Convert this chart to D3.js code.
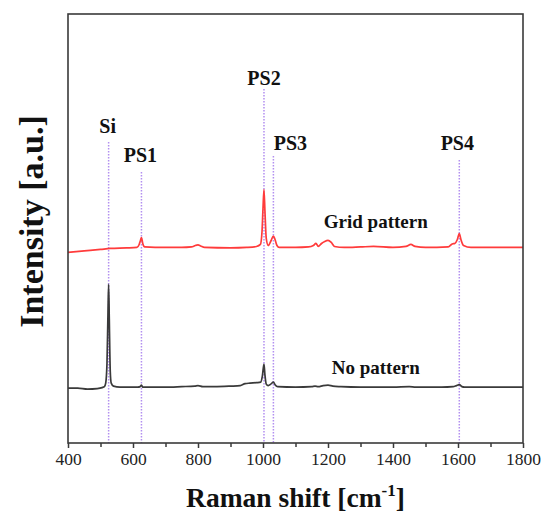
<!DOCTYPE html>
<html>
<head>
<meta charset="utf-8">
<script src="https://cdn.jsdelivr.net/npm/d3@7"></script>
<style>
  html, body { margin: 0; padding: 0; background: #fff; }
  svg { display: block; font-family: "Liberation Serif", "Times New Roman", serif; }
</style>
</head>
<body>
<svg id="chart" width="541" height="514"></svg>
<script>
// ---- Data ----
const xTicks = [400, 600, 800, 1000, 1200, 1400, 1600, 1800];
const xMinorTicks = [500, 700, 900, 1100, 1300, 1500, 1700];

// Raman shift (cm^-1) and intensity (a.u.) of "No pattern" spectrum
const noPatternShift = [400, 430, 460, 490, 505, 512, 516, 520, 523, 525, 527, 530, 533, 540, 560, 600, 615, 622, 626, 630, 650, 700, 750, 790, 800, 815, 850, 900, 930, 945, 960, 980, 993, 998, 1003, 1006, 1010, 1016, 1024, 1032, 1038, 1045, 1100, 1150, 1160, 1170, 1185, 1200, 1215, 1240, 1300, 1400, 1450, 1470, 1550, 1585, 1595, 1604, 1612, 1620, 1700, 1800];
const noPatternInt   = [55, 55, 54, 54.5, 55.5, 56.5, 60, 80, 130, 159, 125, 72, 60, 57, 56, 56, 56, 56.5, 58, 56, 56, 56, 56.5, 57, 57.5, 56.5, 56.5, 57, 57.5, 59.5, 60, 60.5, 61, 67, 79, 68, 59, 57.5, 59, 61, 58, 56.5, 56, 56.5, 57, 56.5, 57.5, 58, 57, 56.5, 56, 56, 56.5, 56, 56, 56.5, 57.5, 58.5, 56.5, 56, 56, 56];

// Raman shift (cm^-1) and intensity (a.u.) of "Grid pattern" spectrum
const gridShift = [400, 450, 500, 530, 580, 612, 619, 623, 626, 630, 636, 700, 750, 780, 792, 800, 808, 820, 900, 950, 980, 992, 997, 1000, 1003, 1006, 1010, 1016, 1025, 1032, 1037, 1043, 1050, 1100, 1140, 1155, 1163, 1170, 1180, 1190, 1200, 1210, 1220, 1250, 1300, 1340, 1400, 1440, 1455, 1468, 1500, 1570, 1582, 1590, 1598, 1604, 1609, 1617, 1640, 1700, 1800];
const gridInt   = [191, 192.5, 194, 195, 195.5, 196, 199, 203, 206, 200, 196.5, 196, 196, 196.5, 198, 198.5, 197.5, 196, 195.5, 196, 197, 199, 212, 235, 254, 232, 205, 198, 203, 207.5, 204, 198, 196, 196, 196.5, 198, 200, 197, 200, 202, 203, 201, 197, 196, 196.5, 197, 196, 197, 199, 197, 196, 196.5, 199.5, 200, 204, 210, 204, 198, 196, 196, 196];

// Peak markers
const markerNames = ["Si", "PS1", "PS2", "PS3", "PS4"];
const markerShift = [525, 626, 1003, 1032, 1604];

// Series labels
const seriesNames = ["Grid pattern", "No pattern"];

// ---- Layout ----
const W = 541, H = 514;
const margin = { left: 68, right: 18, top: 14, bottom: 71 };
const x0 = margin.left, x1 = W - margin.right;
const y0 = H - margin.bottom, y1 = margin.top;

const x = d3.scaleLinear().domain([400, 1800]).range([x0, x1]);
const y = d3.scaleLinear().domain([0, 430]).range([y0, y1]);

const svg = d3.select("#chart");

// marker dotted lines (drawn beneath spectra)
const markerTop = [142, 172, 89, 156, 160];          // pixel tops of dotted lines
const labelBase = [133, 162, 85, 150, 150];          // pixel baselines of labels
const labelDx   = [-1, -1, 0, 17, -2];

const mk = svg.append("g");
markerShift.forEach((s, i) => {
  mk.append("line")
    .attr("x1", x(s)).attr("x2", x(s))
    .attr("y1", markerTop[i]).attr("y2", y0)
    .attr("stroke", "#b28ff0").attr("stroke-width", 1.5)
    .attr("stroke-dasharray", "1.5,1.5");
  mk.append("text")
    .attr("x", x(s) + labelDx[i]).attr("y", labelBase[i])
    .attr("text-anchor", "middle")
    .attr("font-weight", "bold").attr("font-size", 20)
    .attr("fill", "#111")
    .text(markerNames[i]);
});

// spectra
const line = d3.line().x(d => x(d[0])).y(d => y(d[1])).curve(d3.curveMonotoneX);
const noData = noPatternShift.map((s, i) => [s, noPatternInt[i]]);
const gridData = gridShift.map((s, i) => [s, gridInt[i]]);

svg.append("path").datum(noData).attr("d", line)
  .attr("fill", "none").attr("stroke", "#3a3a3a").attr("stroke-width", 1.7);
svg.append("path").datum(gridData).attr("d", line)
  .attr("fill", "none").attr("stroke", "#ff3b3b").attr("stroke-width", 1.7);

// series labels
const seriesLabelX = 1347;
const seriesLabelY = [228, 374];
seriesNames.forEach((n, i) => {
  svg.append("text")
    .attr("x", x(seriesLabelX)).attr("y", seriesLabelY[i])
    .attr("text-anchor", "middle")
    .attr("font-weight", "bold").attr("font-size", 19)
    .attr("fill", "#111")
    .text(n);
});

// frame
svg.append("rect")
  .attr("x", x0).attr("y", y1)
  .attr("width", x1 - x0).attr("height", y0 - y1)
  .attr("fill", "none").attr("stroke", "#3a3a3a").attr("stroke-width", 1.6);

// x axis
const xAxis = d3.axisBottom(x).tickValues(xTicks).tickSize(5).tickPadding(5).tickFormat(d3.format("d"));
const gx = svg.append("g").attr("transform", `translate(0,${y0})`).call(xAxis);
gx.select(".domain").remove();
gx.selectAll(".tick line").attr("stroke", "#3a3a3a").attr("stroke-width", 1.5);
gx.selectAll(".tick text")
  .attr("font-family", "'Liberation Serif', serif").attr("font-size", 17.5).attr("fill", "#222");

const gxm = svg.append("g").attr("transform", `translate(0,${y0})`)
  .call(d3.axisBottom(x).tickValues(xMinorTicks).tickSize(4).tickFormat(""));
gxm.select(".domain").remove();
gxm.selectAll(".tick line").attr("stroke", "#3a3a3a").attr("stroke-width", 1.5);

// axis titles
const xt = svg.append("text")
  .attr("x", (x0 + x1) / 2).attr("y", 507)
  .attr("text-anchor", "middle")
  .attr("font-weight", "bold").attr("font-size", 27.5).attr("fill", "#111");
xt.append("tspan").text("Raman shift [cm");
xt.append("tspan").attr("font-size", 17).attr("dy", -11).text("-1");
xt.append("tspan").attr("dy", 11).text("]");

svg.append("text")
  .attr("transform", `translate(43,${(y0 + y1) / 2 - 7}) rotate(-90)`)
  .attr("text-anchor", "middle")
  .attr("font-weight", "bold").attr("font-size", 34).attr("fill", "#111")
  .text("Intensity [a.u.]");
</script>
</body>
</html>
